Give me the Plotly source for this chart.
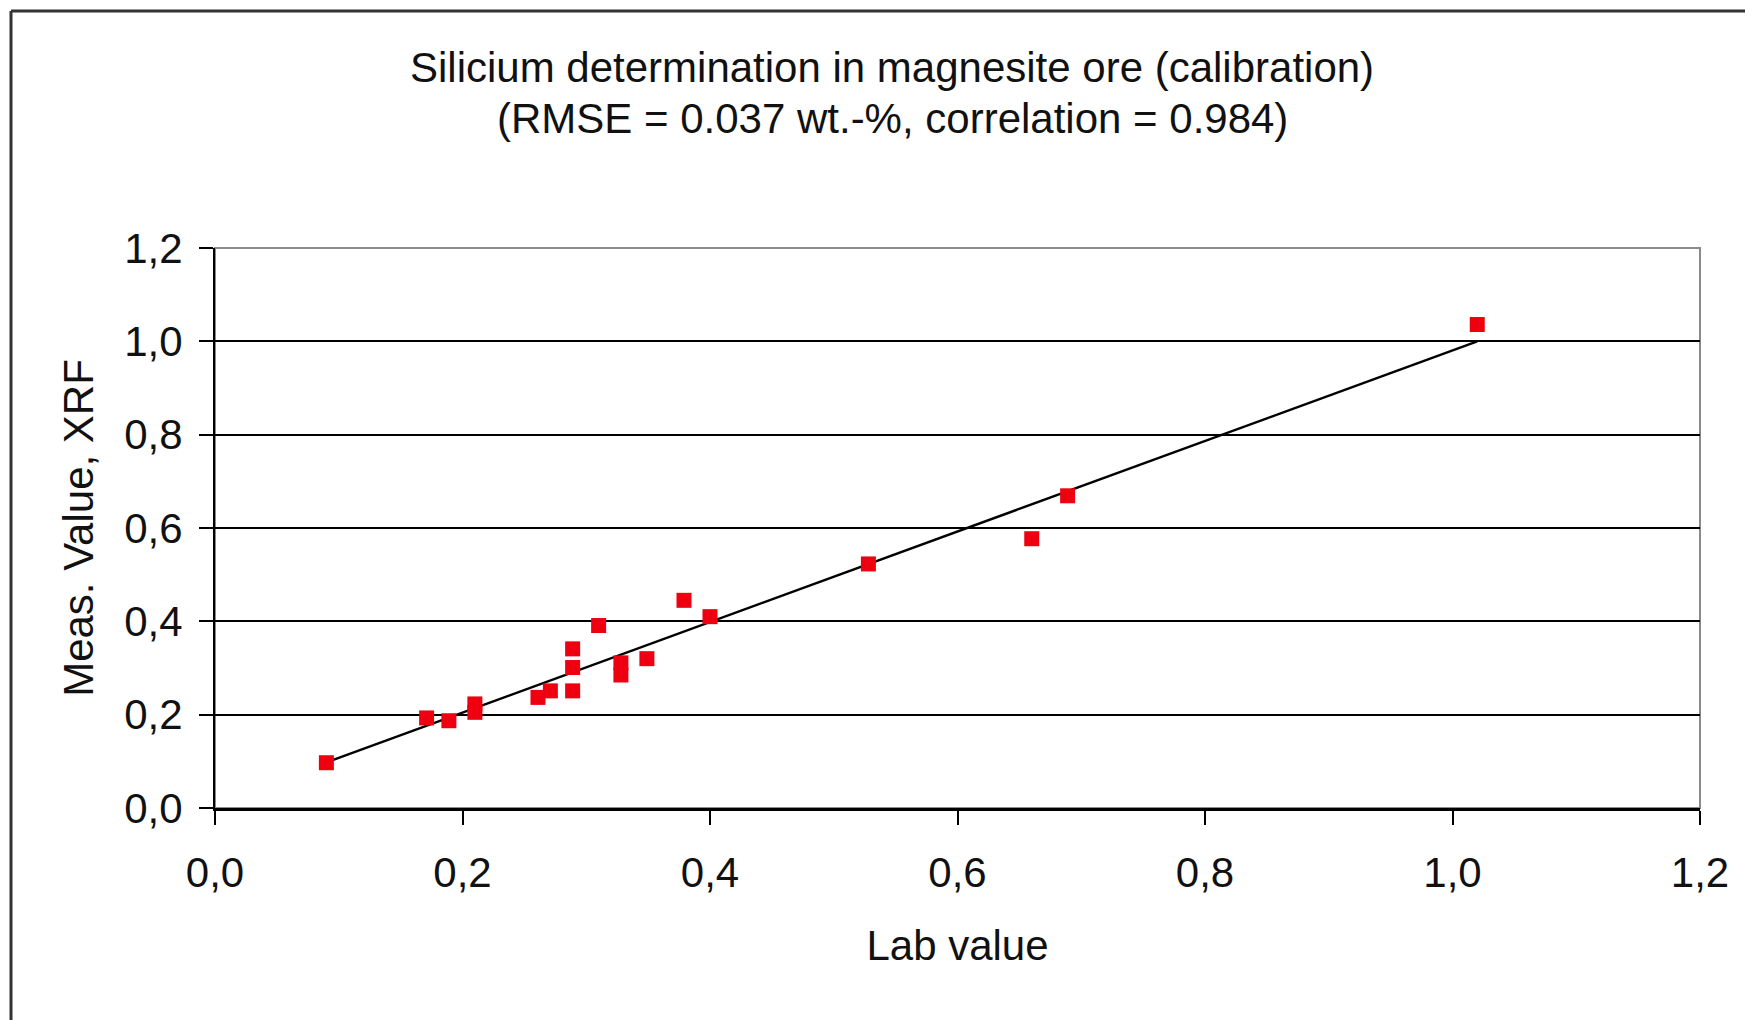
import numpy as np
import plotly.graph_objects as go

# Data
lab_value = [0.09, 0.171, 0.189, 0.21, 0.21, 0.261, 0.271, 0.289, 0.289, 0.289,
             0.31, 0.328, 0.328, 0.349, 0.379, 0.40, 0.528, 0.66, 0.689, 1.02]
xrf_value = [0.097, 0.193, 0.187, 0.223, 0.205, 0.237, 0.251, 0.341, 0.301, 0.251,
             0.391, 0.311, 0.285, 0.32, 0.445, 0.41, 0.523, 0.577, 0.669, 1.036]
tick_vals = [0.0, 0.2, 0.4, 0.6, 0.8, 1.0, 1.2]
tick_text = ["0,0", "0,2", "0,4", "0,6", "0,8", "1,0", "1,2"]
title_line1 = "Silicium determination in magnesite ore (calibration)"
title_line2 = "(RMSE = 0.037 wt.-%, correlation = 0.984)"

# linear trendline (least-squares fit of the points)
slope, intercept = np.polyfit(lab_value, xrf_value, 1)
trend_x = [min(lab_value), max(lab_value)]
trend_y = [slope * v + intercept for v in trend_x]

OFF = 8  # default page body margin
W, H = 1745, 1012
# plot-area edges in screen pixels
SL, SR, ST, SB = 215, 1700, 248, 808
L, R, T, B = SL - OFF, SR - OFF, ST - OFF, SB - OFF
FONT = "Liberation Sans, Arial, sans-serif"
FS = 42


def px_to_paper_x(px):  # screen px -> paper
    return (px - SL) / (SR - SL)


def px_to_paper_y(py):
    return (SB - py) / (SB - ST)


fig = go.Figure()
fig.add_trace(go.Scatter(x=trend_x, y=trend_y, mode="lines",
                         line=dict(color="black", width=2.4), showlegend=False,
                         hoverinfo="skip"))
fig.add_trace(go.Scatter(x=lab_value, y=xrf_value, mode="markers",
                         marker=dict(symbol="square", size=15, color="#EE0010",
                                     line=dict(width=0)),
                         showlegend=False))

fig.update_layout(
    width=W, height=H,
    margin=dict(l=L, r=W - R, t=T, b=H - B, pad=0),
    paper_bgcolor="white", plot_bgcolor="white",
    font=dict(family=FONT, size=FS, color="#111111"),
    showlegend=False,
    xaxis=dict(range=[0, 1.2], tickvals=tick_vals, ticktext=tick_text,
               showgrid=False, zeroline=False, showline=True, linecolor="black",
               linewidth=2.5, ticks="outside", ticklen=14, tickwidth=1.5,
               tickcolor="black", ticklabelstandoff=12,
               title=dict(text="Lab value", standoff=36,
                          font=dict(size=FS, family=FONT))),
    yaxis=dict(range=[0, 1.2], tickvals=tick_vals, ticktext=tick_text,
               showgrid=True, gridcolor="black", gridwidth=2.2,
               zeroline=False, showline=True, linecolor="black",
               linewidth=2, ticks="outside", ticklen=14, tickwidth=1.5,
               tickcolor="black", ticklabelstandoff=8,
               title=dict(text="Meas. Value, XRF", standoff=18,
                          font=dict(size=FS, family=FONT))),
    annotations=[
        dict(text=title_line1, xref="paper", yref="paper",
             x=px_to_paper_x(892), y=px_to_paper_y(67), xanchor="center",
             yanchor="middle", showarrow=False, font=dict(size=FS, family=FONT)),
        dict(text=title_line2, xref="paper", yref="paper",
             x=px_to_paper_x(892), y=px_to_paper_y(119), xanchor="center",
             yanchor="middle", showarrow=False, font=dict(size=FS, family=FONT)),
    ],
    shapes=[
        # plot area border (gray top/right)
        dict(type="rect", xref="paper", yref="paper", x0=0, y0=0, x1=1, y1=1,
             line=dict(color="#8a8a8a", width=2), layer="below"),
        # outer chart frame (left and top edges visible)
        dict(type="line", xref="paper", yref="paper",
             x0=px_to_paper_x(11), x1=px_to_paper_x(11),
             y0=px_to_paper_y(11), y1=px_to_paper_y(1030),
             line=dict(color="#333333", width=3)),
        dict(type="line", xref="paper", yref="paper",
             x0=px_to_paper_x(11), x1=px_to_paper_x(1765),
             y0=px_to_paper_y(11), y1=px_to_paper_y(11),
             line=dict(color="#333333", width=3)),
    ],
)

fig.write_html("out.html")
